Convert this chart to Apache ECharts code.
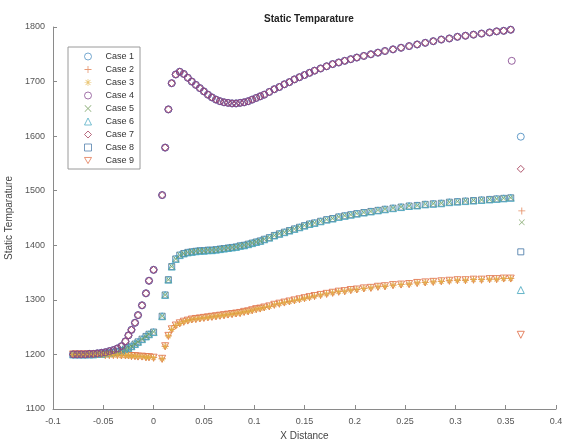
<!DOCTYPE html>
<html>
<head>
<meta charset="utf-8">
<script src="https://cdn.jsdelivr.net/npm/echarts@6/dist/echarts.min.js"></script>
<style>
  html, body { margin: 0; padding: 0; background: #fff; }
  #chart { width: 564px; height: 443px; }
</style>
</head>
<body>
<div id="chart"></div>
<script>
const caseNames = ['Case 1', 'Case 2', 'Case 3', 'Case 4', 'Case 5', 'Case 6', 'Case 7', 'Case 8', 'Case 9']

const xDist = [
  -0.080, -0.076, -0.072, -0.068, -0.064, -0.060, -0.056, -0.052, -0.048, -0.044,
  -0.040, -0.036, -0.032, -0.028, -0.025, -0.022, -0.0185, -0.0155, -0.0115, -0.0076,
  -0.0046, 0.000,
  0.0085, 0.0115, 0.0147, 0.018, 0.022, 0.026, 0.030, 0.034, 0.038, 0.042,
  0.046, 0.050, 0.054, 0.058, 0.062, 0.066, 0.070, 0.074, 0.078, 0.082,
  0.086, 0.090, 0.094, 0.098, 0.102, 0.106, 0.110, 0.115, 0.120, 0.125,
  0.130, 0.135, 0.140, 0.145, 0.150, 0.155, 0.160, 0.166, 0.172, 0.178,
  0.184, 0.190, 0.196, 0.202,
  0.209, 0.216, 0.223, 0.230, 0.238, 0.246, 0.254, 0.262, 0.270, 0.278,
  0.286, 0.294, 0.302, 0.310, 0.318, 0.326, 0.334, 0.341, 0.348, 0.355
]

// high temperature branch (cases 1, 4, 7)
const tempHigh = [
  1200, 1200, 1200, 1200, 1201, 1201, 1202, 1203, 1204, 1206,
  1208, 1211, 1215, 1224, 1235, 1245, 1258, 1272, 1290, 1312,
  1335, 1355,
  1492, 1579, 1649, 1697, 1713, 1718, 1714, 1707, 1700, 1694,
  1688, 1682, 1676, 1671, 1667, 1664, 1662, 1661, 1660, 1660,
  1661, 1662, 1664, 1667, 1670, 1673, 1676, 1681, 1686, 1690,
  1695, 1699, 1704, 1708, 1712, 1716, 1720, 1724, 1728, 1732,
  1735, 1738, 1741, 1744,
  1747, 1750, 1753, 1756, 1759, 1762, 1765, 1768, 1771, 1774,
  1777, 1779, 1782, 1784, 1786, 1788, 1790, 1792, 1793, 1795
]

// middle branch (cases 5, 6, 8)
const tempMid = [
  1200, 1200, 1200, 1200, 1200, 1200, 1201, 1201, 1202, 1203,
  1204, 1205, 1207, 1210, 1212, 1215, 1219, 1223, 1228, 1233,
  1237, 1241,
  1270, 1309, 1337, 1361, 1375, 1382, 1385, 1387, 1388, 1389,
  1390, 1390, 1391, 1391, 1392, 1393, 1394, 1395, 1396, 1397,
  1399, 1400, 1402, 1404, 1406, 1408, 1411, 1414, 1418, 1421,
  1424, 1427, 1430, 1433, 1436, 1439, 1441, 1444, 1447, 1449,
  1452, 1454, 1456, 1458,
  1460, 1462, 1464, 1466, 1468, 1470, 1472, 1473, 1475, 1476,
  1477, 1479, 1480, 1481, 1482, 1483, 1484, 1485, 1486, 1487
]

// low branch (cases 2, 3, 9)
const tempLow = [
  1200, 1200, 1200, 1200, 1200, 1200, 1200, 1200, 1199, 1199,
  1199, 1199, 1198, 1198, 1198, 1197, 1197, 1196, 1196, 1195,
  1195, 1194,
  1192, 1215, 1234, 1246, 1253, 1257, 1260, 1262, 1264, 1265,
  1266, 1267, 1268, 1269, 1270, 1271, 1272, 1273, 1274, 1275,
  1276, 1278, 1279, 1281, 1283, 1284, 1286, 1288, 1291, 1293,
  1295, 1297, 1299, 1301, 1303, 1305, 1307, 1309, 1311, 1313,
  1315, 1316, 1318, 1319,
  1321, 1322, 1324, 1325, 1327, 1328, 1329, 1331, 1332, 1333,
  1334, 1335, 1336, 1336, 1337, 1337, 1338, 1338, 1339, 1339
]

const caseBranch = ['high', 'low', 'low', 'high', 'mid', 'mid', 'high', 'mid', 'low']

// last point of each case, off the main curve
const endX = [0.365, 0.366, null, 0.356, 0.366, 0.365, 0.365, 0.365, 0.365]
const endTemp = [1599, 1463, null, 1738, 1442, 1318, 1540, 1388, 1236]

// drawing order (later = on top), legend keeps case order
const drawOrder = [7, 0, 8, 5, 6, 1, 4, 2, 3]

const branches = { high: tempHigh, mid: tempMid, low: tempLow }

const plus = 'path://M4.4,0H5.6V4.4H10V5.6H5.6V10H4.4V5.6H0V4.4H4.4Z'
const cross = 'path://M0,0.8L0.8,0L5,4.2L9.2,0L10,0.8L5.8,5L10,9.2L9.2,10L5,5.8L0.8,10L0,9.2L4.2,5Z'
const star = 'path://M4.5,0H5.5V4.5H10V5.5H5.5V10H4.5V5.5H0V4.5H4.5Z' +
  'M1.2,1.9L1.9,1.2L5,4.3L8.1,1.2L8.8,1.9L5.7,5L8.8,8.1L8.1,8.8L5,5.7L1.9,8.8L1.2,8.1L4.3,5Z'
const downTri = 'path://M0,0H10L5,8.7Z'

const markers = [
  { symbol: 'circle', size: 7, color: '#4a8cc0', open: true },
  { symbol: plus, size: 7, color: '#e07a4a', open: false },
  { symbol: star, size: 7, color: '#e2b040', open: false },
  { symbol: 'circle', size: 7, color: '#84468e', open: true },
  { symbol: cross, size: 6, color: '#6f9a55', open: false },
  { symbol: 'triangle', size: 7, color: '#4aa8c0', open: true },
  { symbol: 'diamond', size: 7, color: '#a23a55', open: true },
  { symbol: 'rect', size: 6, color: '#4a7aa8', open: true },
  { symbol: downTri, size: 7, color: '#e0704a', open: true }
]

const series = drawOrder.map(i => {
  const vals = branches[caseBranch[i]]
  const pts = xDist.map((x, k) => [x, vals[k]])
  if (endX[i] !== null) pts.push([endX[i], endTemp[i]])
  const m = markers[i]
  return {
    name: caseNames[i],
    type: 'scatter',
    data: pts,
    symbol: m.symbol,
    symbolSize: m.size,
    itemStyle: m.open
      ? { color: 'rgba(255,255,255,0)', borderColor: m.color, borderWidth: 1, opacity: 0.85 }
      : { color: m.color, opacity: 0.85 },
    emphasis: { disabled: true }
  }
})

const axisCommon = {
  axisLine: { show: true, onZero: false, lineStyle: { color: '#8a8a8a', width: 1 } },
  axisTick: { show: true, inside: true, length: 4, lineStyle: { color: '#8a8a8a' } },
  splitLine: { show: false },
  nameTextStyle: { color: '#444', fontSize: 10, fontFamily: 'Liberation Sans' }
}

const chart = echarts.init(document.getElementById('chart'), null, { renderer: 'canvas' })
chart.setOption({
  animation: false,
  backgroundColor: '#fff',
  title: {
    text: 'Static Temparature',
    left: 304,
    textAlign: 'center',
    top: 9,
    textStyle: { fontSize: 10, fontWeight: 'bold', color: '#222', fontFamily: 'Liberation Sans' }
  },
  legend: {
    orient: 'vertical',
    left: 68,
    top: 47,
    itemWidth: 7,
    itemHeight: 7,
    itemGap: 2,
    padding: [4, 6, 3, 16],
    borderColor: '#9a9a9a',
    borderWidth: 1,
    borderRadius: 0,
    backgroundColor: '#fff',
    itemStyle: { borderWidth: 1, opacity: 0.75 },
    textStyle: { fontSize: 9, color: '#333', fontFamily: 'Liberation Sans', lineHeight: 11, padding: [0, 0, 0, 9] },
    data: caseNames
  },
  grid: { left: 53, right: 8, top: 27, bottom: 34, containLabel: false, outerBoundsMode: 'none' },
  xAxis: Object.assign({}, axisCommon, {
    type: 'value',
    min: -0.1,
    max: 0.4,
    interval: 0.05,
    name: 'X Distance',
    nameLocation: 'middle',
    nameGap: 21,
    axisLabel: { color: '#555', fontSize: 9, fontFamily: 'Liberation Sans', formatter: v => String(+v.toFixed(3)) }
  }),
  yAxis: Object.assign({}, axisCommon, {
    type: 'value',
    min: 1100,
    max: 1800,
    interval: 100,
    name: 'Static Temparature',
    nameLocation: 'middle',
    nameGap: 28,
    axisLabel: { color: '#555', fontSize: 9, fontFamily: 'Liberation Sans', formatter: v => String(v) }
  }),
  series
})
</script>
</body>
</html>
